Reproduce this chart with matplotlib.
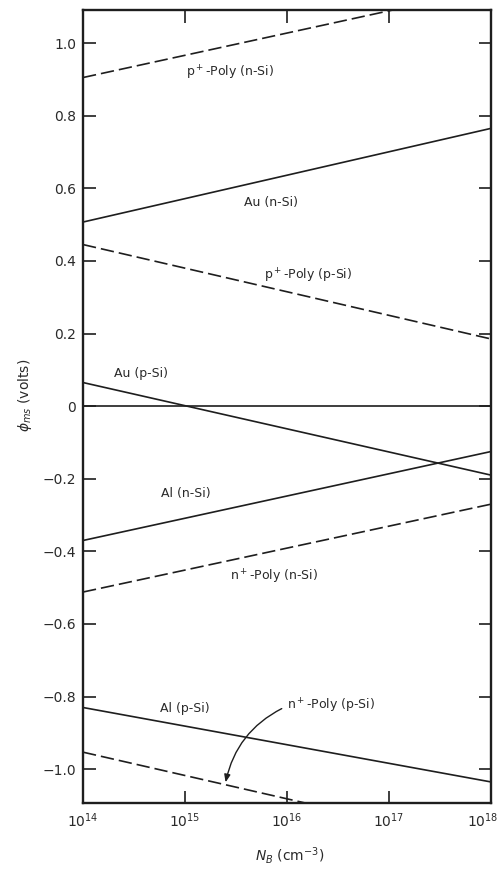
import matplotlib
matplotlib.use("Agg")
import matplotlib.pyplot as plt
from matplotlib.ticker import FixedLocator, NullLocator
from matplotlib.transforms import ScaledTranslation

# ---- data ----
N_B = [1e14, 1e18]
p_poly_nsi = [0.905, 1.15]
au_nsi = [0.507, 0.765]
p_poly_psi = [0.445, 0.185]
au_psi = [0.065, -0.19]
al_nsi = [-0.37, -0.125]
n_poly_nsi = [-0.512, -0.27]
al_psi = [-0.83, -1.035]
n_poly_psi = [-0.953, -1.21]

curve_labels = ["p$^+$-Poly (n-Si)", "Au (n-Si)", "p$^+$-Poly (p-Si)", "Au (p-Si)",
                "Al (n-Si)", "n$^+$-Poly (n-Si)", "Al (p-Si)", "n$^+$-Poly (p-Si)"]
y_ticks = [1.0, 0.8, 0.6, 0.4, 0.2, 0.0, -0.2, -0.4, -0.6, -0.8, -1.0]
y_ticklabels = ["1.0", "0.8", "0.6", "0.4", "0.2", "0", "\u22120.2", "\u22120.4",
                "\u22120.6", "\u22120.8", "\u22121.0"]
x_ticks = [1e14, 1e15, 1e16, 1e17, 1e18]
x_ticklabels = ["10$^{14}$", "10$^{15}$", "10$^{16}$", "10$^{17}$", "10$^{18}$"]

ink = "#1e1e1e"
plt.rcParams['font.family'] = ['DejaVu Sans']

fig = plt.figure(figsize=(5.0, 8.69), dpi=100)
ax = fig.add_axes([83/500, 1-803/869, 408/500, 793/869])

lw = 1.2
dash = (8, 3)
ax.plot(N_B, p_poly_nsi, color=ink, lw=lw, dashes=dash)
ax.plot(N_B, au_nsi, color=ink, lw=lw)
ax.plot(N_B, p_poly_psi, color=ink, lw=lw, dashes=dash)
ax.plot(N_B, au_psi, color=ink, lw=lw)
ax.plot(N_B, al_nsi, color=ink, lw=lw)
ax.plot(N_B, n_poly_nsi, color=ink, lw=lw, dashes=dash)
ax.plot(N_B, al_psi, color=ink, lw=lw)
ax.plot(N_B, n_poly_psi, color=ink, lw=lw, dashes=dash)
ax.axhline(0, color=ink, lw=lw)

ax.set_xscale('log')
ax.set_xlim(1e14, 1e18)
ax.set_ylim(-1.093, 1.091)

ax.xaxis.set_major_locator(FixedLocator(x_ticks))
ax.xaxis.set_minor_locator(NullLocator())
ax.set_xticklabels(x_ticklabels)
ax.set_yticks(y_ticks)
ax.set_yticklabels(y_ticklabels)
ax.tick_params(axis='both', direction='in', length=9, width=1.2, color=ink,
               labelcolor="#2a2a2a", labelsize=10, top=True, right=True)
ax.tick_params(axis='y', pad=5)
ax.tick_params(axis='x', pad=6)
for s in ax.spines.values():
    s.set_linewidth(1.7)
    s.set_color(ink)

# keep the last x tick label inside the canvas
last = ax.get_xticklabels()[-1]
last.set_transform(last.get_transform() + ScaledTranslation(-6/72, 0, fig.dpi_scale_trans))

fs = 9
tc = "#2a2a2a"
label_pos = [(2.75e15, 0.917), (7.0e15, 0.56), (1.6e16, 0.358), (3.7e14, 0.091),
             (1.03e15, -0.24), (7.5e15, -0.47), (1.0e15, -0.832)]
for lab, (x, y) in zip(curve_labels[:7], label_pos):
    ax.text(x, y, lab, fontsize=fs, color=tc, ha='center', va='center')

ax.annotate(curve_labels[7], xy=(2.5e15, -1.036), xytext=(1.0e16, -0.826),
            fontsize=fs, color=tc, ha='left', va='center',
            arrowprops=dict(arrowstyle='-|>,head_length=0.5,head_width=0.2',
                            color=ink, lw=1.0, shrinkA=2, shrinkB=0, relpos=(0, 0.5),
                            connectionstyle='arc3,rad=0.25'))

fig.text(25/500, 1-395/869, r"$\phi_{ms}$ (volts)", rotation=90, ha='center',
         va='center', fontsize=10, color=tc)
fig.text(290/500, 1-856/869, r"$N_B$ (cm$^{-3}$)", ha='center', va='center',
         fontsize=10, color=tc)

fig.savefig("out.png", dpi=100, facecolor='white')
